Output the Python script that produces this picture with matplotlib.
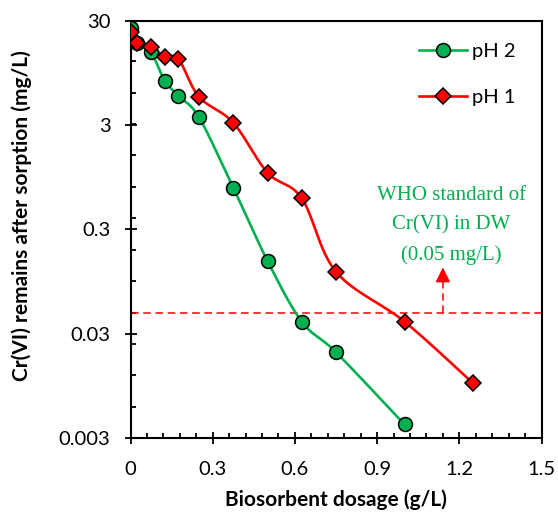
import numpy as np
import matplotlib
matplotlib.use('Agg')
import matplotlib.pyplot as plt
from matplotlib.lines import Line2D
from matplotlib.ticker import FixedLocator, NullFormatter

# biosorbent dosage (g/L) and residual Cr(VI) (mg/L)
dose_ph2 = [0, 0.025, 0.075, 0.125, 0.175, 0.25, 0.375, 0.5, 0.625, 0.75, 1.0]
cr_ph2 = [25.4, 18.2, 14.9, 8.0, 5.7, 3.56, 0.754, 0.150, 0.0393, 0.0200, 0.00407]

dose_ph1 = [0, 0.025, 0.075, 0.125, 0.175, 0.25, 0.375, 0.5, 0.625, 0.75, 1.0, 1.25]
cr_ph1 = [23.5, 18.2, 16.9, 13.6, 12.9, 5.6, 3.16, 1.05, 0.597, 0.118, 0.0393, 0.0101]

who_limit = 0.048
x_ticks = [0, 0.3, 0.6, 0.9, 1.2, 1.5]
x_ticklabels = ['0', '0.3', '0.6', '0.9', '1.2', '1.5']
y_ticks = [0.003, 0.03, 0.3, 3, 30]
y_ticklabels = ['0.003', '0.03', '0.3', '3', '30']

GREEN = '#00B050'
RED = '#FF0000'
FONT = 'Lato'


def smooth(x, y, n=30):
    # Excel-style smoothed line (Catmull-Rom bezier) in x / log10(y) space
    P = np.column_stack([np.asarray(x, float), np.log10(y)])
    out = []
    for i in range(len(P) - 1):
        p0 = P[max(i - 1, 0)]
        p1 = P[i]
        p2 = P[i + 1]
        p3 = P[min(i + 2, len(P) - 1)]
        c1 = p1 + (p2 - p0) / 6
        c2 = p2 - (p3 - p1) / 6
        t = np.linspace(0, 1, n)[:, None]
        seg = (1 - t)**3 * p1 + 3 * (1 - t)**2 * t * c1 + 3 * (1 - t) * t**2 * c2 + t**3 * p2
        out.append(seg if i == 0 else seg[1:])
    out = np.vstack(out)
    return out[:, 0], 10 ** out[:, 1]


fig = plt.figure(figsize=(5.58, 5.16), dpi=100)
ax = fig.add_axes([0.2339, 0.1506, 0.7366, 0.8093])

sx, sy = smooth(dose_ph2, cr_ph2)
ax.plot(sx, sy, color=GREEN, lw=1.9, zorder=3)
ax.plot(dose_ph2, cr_ph2, ls='none', marker='o', ms=10, mfc=GREEN, mec='black', mew=1.1, zorder=4)

sx, sy = smooth(dose_ph1, cr_ph1)
ax.plot(sx, sy, color=RED, lw=1.9, zorder=3)
ax.plot(dose_ph1, cr_ph1, ls='none', marker='D', ms=8.5, mfc=RED, mec='black', mew=1.1, zorder=5)

# WHO limit line and arrow
ax.plot([0, 1.5], [who_limit, who_limit], color=RED, lw=1.1, ls=(0, (5, 3)), zorder=2)
ax.plot([1.14, 1.14], [who_limit, 0.094], color=RED, lw=1.1, ls=(0, (5, 3)), zorder=2)
ax.annotate('', xy=(1.14, 0.13), xytext=(1.14, 0.093),
            arrowprops=dict(arrowstyle='-|>,head_length=0.9,head_width=0.45',
                            color=RED, lw=1.1, shrinkA=0, shrinkB=0))
ax.text(1.17, 0.33, 'WHO standard of\nCr(VI) in DW\n(0.05 mg/L)', color=GREEN,
        family='Liberation Serif', fontsize=15, ha='center', va='center', linespacing=1.72)

ax.set_yscale('log')
ax.set_xlim(0, 1.5)
ax.set_ylim(0.003, 30)

ax.xaxis.set_major_locator(FixedLocator(x_ticks))
ax.xaxis.set_minor_locator(FixedLocator(np.arange(0, 1.5001, 0.06)))
ax.set_xticklabels(x_ticklabels)
ax.yaxis.set_major_locator(FixedLocator(y_ticks))
ax.yaxis.set_minor_locator(FixedLocator([0.003 * 2 ** k for k in range(1, 14)]))
ax.yaxis.set_minor_formatter(NullFormatter())
ax.set_yticklabels(y_ticklabels)

ax.tick_params(which='major', direction='inout', length=9, width=1.3, pad=10,
               labelsize=14.5, top=False, right=False)
ax.tick_params(axis='x', which='major', pad=12)
ax.tick_params(which='minor', direction='in', length=3.6, width=1.3, top=False, right=False)
for lab in ax.get_xticklabels() + ax.get_yticklabels():
    lab.set_family(FONT)
for sp in ax.spines.values():
    sp.set_linewidth(1.5)
    sp.set_color('black')

fig.text(336 / 558, 1 - 500 / 516, 'Biosorbent dosage (g/L)', family=FONT,
         fontweight='bold', fontsize=15, ha='center', va='center')
fig.text(22 / 558, 1 - 216 / 516, 'Cr(VI) remains after sorption (mg/L)', family=FONT,
         fontweight='bold', fontsize=15, rotation=90, ha='center', va='center')

handles = [Line2D([], [], color=GREEN, lw=1.9, marker='o', ms=10, mfc=GREEN, mec='black', mew=1.1),
           Line2D([], [], color=RED, lw=1.9, marker='D', ms=8.5, mfc=RED, mec='black', mew=1.1)]
leg = ax.legend(handles, ['pH 2', 'pH 1'], loc='upper left', bbox_to_anchor=(0.702, 0.947),
                frameon=False, borderpad=0, borderaxespad=0, handlelength=2.4,
                handletextpad=0.25, labelspacing=1.45, prop={'family': FONT, 'size': 14.5})

fig.savefig('out.png', dpi=100)
print('saved out.png')
